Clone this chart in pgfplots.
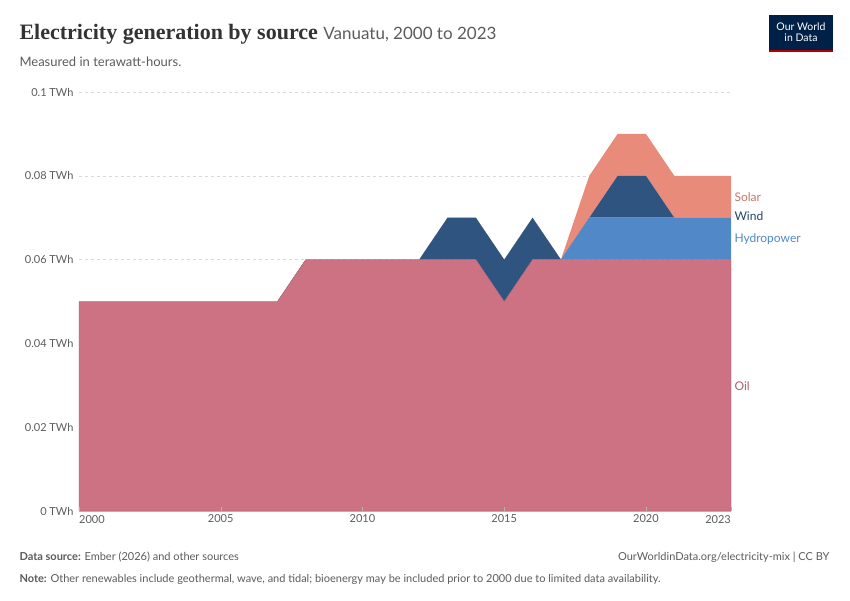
\documentclass[border=0pt]{standalone}
\usepackage{pgfplots}
\pgfplotsset{compat=1.18}
\usepackage{fontspec}
\setmainfont{Lato}
\newfontfamily\titlefont{Liberation Serif}
\definecolor{oil}{HTML}{CC7283}
\definecolor{wind}{HTML}{2F5480}
\definecolor{hydro}{HTML}{5088C8}
\definecolor{solar}{HTML}{E88B7B}
\definecolor{txt}{HTML}{5B5B5B}
\definecolor{owid}{HTML}{002147}
\begin{document}
\begin{tikzpicture}
\useasboundingbox (0pt,0pt) rectangle (850pt,600pt);
\node[anchor=base west,font=\titlefont\bfseries\fontsize{22}{24}\selectfont,text=black!80] at (16pt,560pt) {Electricity generation by source \textnormal{\rmfamily\fontsize{17}{20}\selectfont\color{txt} Vanuatu, 2000 to 2023}};
\node[anchor=base west,font=\fontsize{13}{15}\selectfont,text=txt] at (16pt,533pt) {Measured in terawatt-hours.};
\fill[owid] (769pt,550pt) rectangle (833pt,585pt);
\fill[red!70!black] (769pt,548pt) rectangle (833pt,550pt);
\node[text=white,align=center,font=\fontsize{10.5}{11}\selectfont] at (801pt,568pt) {Our World\\in Data};
\foreach \k in {1,...,5} {\draw[gray!30,dashed] (79pt,89pt+\k*83.8pt) -- (731pt,89pt+\k*83.8pt);}
\begin{axis}[at={(79pt,89pt)},anchor=south west,scale only axis,width=652pt,height=419pt,
 xmin=2000,xmax=2023,ymin=0,ymax=0.1,
 stack plots=y, area style,
 axis y line*=left, y axis line style={draw=none}, ytick style={draw=none},
 ytick={0,0.02,0.04,0.06,0.08,0.1},
 yticklabels={0 TWh,0.02 TWh,0.04 TWh,0.06 TWh,0.08 TWh,0.1 TWh},
 y tick label style={font=\fontsize{11}{12}\selectfont,text=txt,xshift=-2pt},
 xtick={2000,2005,2010,2015,2020,2023},
 xticklabels={,2005,2010,2015,2020,},
 x tick label style={font=\fontsize{11}{12}\selectfont,text=txt},
 xtick style={draw=gray!60}, axis x line*=bottom, x axis line style={draw=gray!60,-},
 clip=false]
\addplot[fill=oil,draw=oil!80!black,line width=0.3pt] coordinates {(2000,0.05)(2001,0.05)(2002,0.05)(2003,0.05)(2004,0.05)(2005,0.05)(2006,0.05)(2007,0.05)(2008,0.06)(2009,0.06)(2010,0.06)(2011,0.06)(2012,0.06)(2013,0.06)(2014,0.06)(2015,0.05)(2016,0.06)(2017,0.06)(2018,0.06)(2019,0.06)(2020,0.06)(2021,0.06)(2022,0.06)(2023,0.06)} \closedcycle;
\addplot[fill=hydro,draw=none] coordinates {(2000,0)(2001,0)(2002,0)(2003,0)(2004,0)(2005,0)(2006,0)(2007,0)(2008,0)(2009,0)(2010,0)(2011,0)(2012,0)(2013,0)(2014,0)(2015,0)(2016,0)(2017,0)(2018,0.01)(2019,0.01)(2020,0.01)(2021,0.01)(2022,0.01)(2023,0.01)} \closedcycle;
\addplot[fill=wind,draw=none] coordinates {(2000,0)(2001,0)(2002,0)(2003,0)(2004,0)(2005,0)(2006,0)(2007,0)(2008,0)(2009,0)(2010,0)(2011,0)(2012,0)(2013,0.01)(2014,0.01)(2015,0.01)(2016,0.01)(2017,0)(2018,0)(2019,0.01)(2020,0.01)(2021,0)(2022,0)(2023,0)} \closedcycle;
\addplot[fill=solar,draw=none] coordinates {(2000,0)(2001,0)(2002,0)(2003,0)(2004,0)(2005,0)(2006,0)(2007,0)(2008,0)(2009,0)(2010,0)(2011,0)(2012,0)(2013,0)(2014,0)(2015,0)(2016,0)(2017,0)(2018,0.01)(2019,0.01)(2020,0.01)(2021,0.01)(2022,0.01)(2023,0.01)} \closedcycle;
\node[anchor=north west,font=\fontsize{11}{12}\selectfont,text=txt,inner sep=0pt] at ([yshift=-4pt]axis cs:2000,0) {2000};
\node[anchor=north east,font=\fontsize{11}{12}\selectfont,text=txt,inner sep=0pt] at ([yshift=-4pt]axis cs:2023,0) {2023};
\node[anchor=west,font=\fontsize{12}{13}\selectfont,text=solar!85!black] at (axis cs:2023,0.075) {Solar};
\node[anchor=west,font=\fontsize{12}{13}\selectfont,text=wind!80!black] at (axis cs:2023,0.0703) {Wind};
\node[anchor=west,font=\fontsize{12}{13}\selectfont,text=hydro] at (axis cs:2023,0.065) {Hydropower};
\node[anchor=west,font=\fontsize{12}{13}\selectfont,text=oil!85!black] at (axis cs:2023,0.0297) {Oil};
\end{axis}
\node[anchor=base west,font=\fontsize{11}{12}\selectfont,text=txt] at (16pt,40pt) {\textbf{Data source:} Ember (2026) and other sources};
\node[anchor=base east,font=\fontsize{11}{12}\selectfont,text=txt] at (833pt,40pt) {OurWorldinData.org/electricity-mix | CC BY};
\node[anchor=base west,font=\fontsize{11}{12}\selectfont,text=txt] at (16pt,18pt) {\textbf{Note:} Other renewables include geothermal, wave, and tidal; bioenergy may be included prior to 2000 due to limited data availability.};
\end{tikzpicture}
\end{document}
